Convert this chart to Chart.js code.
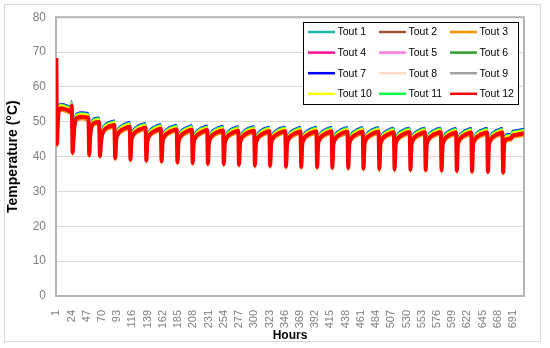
<!DOCTYPE html>
<html lang="fr">
<head>
<meta charset="UTF-8">
<title>Température Tout 1 à 12</title>
<style>
    body {
        margin: 0;
        background: #fff;
        font-family: "Liberation Sans", Arial, sans-serif;
    }
    .chart-box {
        width: 550px;
        height: 348px;
        position: relative;
    }
</style>
</head>
<body>
<div class="chart-box"><canvas id="toutChart"></canvas></div>
<script src="https://cdn.jsdelivr.net/npm/chart.js@4"></script>
<script>
    // Series
    const seriesNames = ['Tout 1', 'Tout 2', 'Tout 3', 'Tout 4', 'Tout 5', 'Tout 6',
                         'Tout 7', 'Tout 8', 'Tout 9', 'Tout 10', 'Tout 11', 'Tout 12'];
    const seriesColors = ['#1cb5ac', '#a0522d', '#ff9200', '#ff0f96', '#ff77e0', '#2fa02c',
                          '#0000ff', '#ffd9c7', '#a0a0a0', '#ffff00', '#00ff44', '#ff0000'];
    // how far each series sits above Tout 12 (degrees), read at the peaks
    const seriesOffsets = [1.1, -0.6, -0.7, 0.2, 0.3, 0.5, 1.3, -0.1, 0.4, 0.8, 1.0, 0];
    // value of each series at hour 1 (all hidden under the red spike)
    const firstHourTemps = [68.0, 68.1, 68.1, 68.2, 68.2, 68.2, 68.0, 68.3, 68.2, 68.1, 68.1, 68.3];
    // drawing order, lowest on top (red over everything, then yellow, green...)
    const seriesOrder = [5, 9, 8, 7, 7, 4, 6, 9, 7, 2, 3, 0];

    // x axis labels (hours)
    const hourTicks = [1, 24, 47, 70, 93, 116, 139, 162, 185, 208, 231, 254, 277, 300, 323, 346,
                       369, 392, 415, 438, 461, 484, 507, 530, 553, 576, 599, 622, 645, 668, 691];

    // first days of Tout 12, after hour 1
    const startHours = [2, 3, 4, 5.5, 8, 14, 20, 23, 24.3, 25.6, 27, 28.5, 30.5, 33, 40, 48.5,
                        49.5, 50.8, 52, 53.5, 56, 60, 65.5, 67, 68.5, 70.5, 74, 80, 87, 88.5];
    const startTemps = [43.6, 48.5, 52.0, 53.5, 53.9, 53.6, 53.2, 52.9, 54.6, 41.2, 45.0, 48.8,
                        50.7, 51.2, 51.4, 51.2, 50.6, 40.5, 45.0, 48.0, 49.3, 49.8, 49.9, 40.2, 44.0,
                        46.5, 47.8, 48.6, 49.0, 49.1];

    // daily dips of Tout 12 from hour 90 on
    const dipHours = [90, 113, 137, 160, 184, 207, 230, 254, 277, 301, 324, 348, 371, 395, 418,
                      442, 465, 489, 512, 536, 559, 583, 606, 629, 653, 676];
    const dipLows = [39.6, 39.2, 38.9, 38.7, 38.4, 38.2, 38.0, 37.9, 37.7, 37.5, 37.4, 37.2, 37.1,
                     37.0, 36.9, 36.8, 36.6, 36.5, 36.4, 36.3, 36.2, 36.1, 36.0, 35.8, 35.7, 35.5];
    // peak reached before the next dip
    const dayPeaks = [48.6, 48.3, 48.0, 47.8, 47.7, 47.6, 47.5, 47.4, 47.4, 47.3, 47.3, 47.2, 47.2,
                      47.2, 47.1, 47.1, 47.1, 47.0, 47.0, 47.0, 47.0, 46.9, 46.9, 46.9, 46.9];
    // recovery after a dip: hours after the dip, degrees under the day's peak
    const riseHours = [1.5, 3, 6, 10, 15];
    const riseDrops = [3.8, 2.5, 1.5, 0.9, 0.4];

    // last day
    const endHours = [677.5, 679, 682, 688, 690, 697, 707];
    const endTemps = [43.2, 44.6, 45.1, 45.3, 46.0, 46.3, 46.7];

    // Tout 12 points from hour 2 on
    const basePoints = startHours.map((h, i) => ({ x: h, y: startTemps[i] }));
    dipHours.forEach((t, d) => {
        basePoints.push({ x: t, y: dipLows[d] });
        if (d < dayPeaks.length) {
            riseHours.forEach((r, k) => basePoints.push({ x: t + r, y: dayPeaks[d] - riseDrops[k] }));
            basePoints.push({ x: dipHours[d + 1] - 1.2, y: dayPeaks[d] });
        }
    });
    endHours.forEach((h, i) => basePoints.push({ x: h, y: endTemps[i] }));

    const datasets = seriesNames.map((name, i) => ({
        label: name,
        data: [{ x: 1, y: firstHourTemps[i] }].concat(
            basePoints.map(p => ({ x: p.x, y: +(p.y + seriesOffsets[i]).toFixed(2) }))),
        borderColor: seriesColors[i],
        backgroundColor: seriesColors[i],
        borderWidth: i === 11 ? 4 : 2,
        pointRadius: 0,
        cubicInterpolationMode: 'monotone',
        order: seriesOrder[i]
    }));

    // frame round the whole chart and round the plot area
    const frames = {
        id: 'frames',
        beforeDraw(chart) {
            const ctx = chart.ctx;
            ctx.save();
            ctx.strokeStyle = '#d9d9d9';
            ctx.lineWidth = 1;
            ctx.strokeRect(4.5, 4.5, 536, 337);
            ctx.restore();
        },
        beforeDatasetsDraw(chart) {
            const a = chart.chartArea;
            const ctx = chart.ctx;
            ctx.save();
            ctx.strokeStyle = '#b4b4b4';
            ctx.lineWidth = 2;
            ctx.strokeRect(a.left, a.top, a.right - a.left, a.bottom - a.top);
            ctx.restore();
        }
    };

    // legend box inside the plot, 3 columns
    const insideLegend = {
        id: 'insideLegend',
        afterDraw(chart) {
            const ctx = chart.ctx;
            ctx.save();
            ctx.fillStyle = '#fff';
            ctx.fillRect(303, 22, 215, 83);
            ctx.strokeStyle = '#000';
            ctx.lineWidth = 1;
            ctx.strokeRect(303.5, 22.5, 215, 82);
            ctx.font = '10.5px "Liberation Sans", Arial, sans-serif';
            ctx.textBaseline = 'middle';
            chart.data.datasets.forEach((ds, i) => {
                const x = 308 + (i % 3) * 71;
                const y = 32 + Math.floor(i / 3) * 20.6;
                ctx.strokeStyle = ds.borderColor;
                ctx.lineWidth = 2.5;
                ctx.beginPath();
                ctx.moveTo(x, y);
                ctx.lineTo(x + 27, y);
                ctx.stroke();
                ctx.fillStyle = '#000';
                ctx.fillText(ds.label, x + 29.5, y + 0.5);
            });
            ctx.restore();
        }
    };

    new Chart(document.getElementById('toutChart'), {
        type: 'line',
        data: { datasets: datasets },
        options: {
            responsive: true,
            maintainAspectRatio: false,
            animation: false,
            layout: { padding: { left: 5, right: 26, top: 15, bottom: 5 } },
            plugins: {
                legend: { display: false },
                tooltip: { enabled: false }
            },
            scales: {
                x: {
                    type: 'linear',
                    min: 0.5,
                    max: 707.5,
                    afterBuildTicks: (scale) => {
                        scale.ticks = hourTicks.map(v => ({ value: v }));
                    },
                    afterFit: (scale) => { scale.height = 47; },
                    grid: { display: false },
                    border: { display: false },
                    ticks: {
                        autoSkip: false,
                        minRotation: 90,
                        maxRotation: 90,
                        padding: 6,
                        color: '#808080',
                        font: { family: '"Liberation Sans", Arial, sans-serif', size: 11 },
                        callback: (value) => String(value)
                    },
                    title: {
                        display: true,
                        text: 'Hours',
                        color: '#000',
                        padding: { top: 3, bottom: 0 },
                        font: { family: '"Liberation Sans", Arial, sans-serif', size: 12, weight: 'bold' }
                    }
                },
                y: {
                    min: 0,
                    max: 80,
                    afterFit: (scale) => { scale.width = 51; },
                    grid: { color: '#d9d9d9', lineWidth: 1, drawTicks: false },
                    border: { display: false },
                    ticks: {
                        stepSize: 10,
                        padding: 10,
                        color: '#808080',
                        font: { family: '"Liberation Sans", Arial, sans-serif', size: 12 }
                    },
                    title: {
                        display: true,
                        text: 'Temperature (°C)',
                        color: '#000',
                        padding: { top: 0, bottom: 0 },
                        font: { family: '"Liberation Sans", Arial, sans-serif', size: 14, weight: 'bold' }
                    }
                }
            }
        },
        plugins: [frames, insideLegend]
    });
</script>
</body>
</html>
